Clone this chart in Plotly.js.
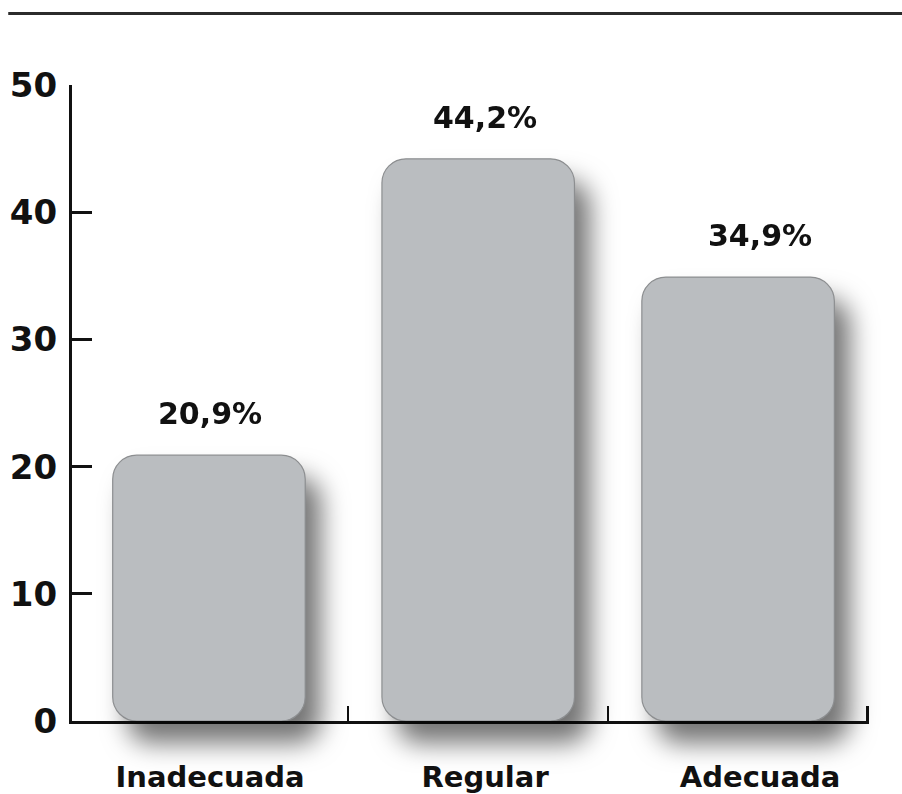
<!DOCTYPE html>
<html>
<head>
<meta charset="utf-8">
<script src="https://cdn.plot.ly/plotly-3.0.1.min.js"></script>
<style>
  html, body { margin: 0; padding: 0; background: #fff; }
  #chart { width: 902px; height: 794px; }
  #chart .barlayer {
    filter: drop-shadow(15px 22px 13px rgba(0,0,0,0.55));
  }
</style>
</head>
<body>
<div id="chart"></div>
<script>
// ---- data ----
const categories = ["Inadecuada", "Regular", "Adecuada"];
const values = [20.9, 44.2, 34.9];
const valueLabels = ["20,9%", "44,2%", "34,9%"];
const yTickValues = [0, 10, 20, 30, 40, 50];
const yTickLabels = ["0", "10", "20", "30", "40", "50"];

// ---- style ----
const FONT = "DejaVu Sans, Liberation Sans, sans-serif";
const BAR_FILL = "#babdc0";
const BAR_WIDTH = 0.70;
const RADIUS = 24;
const BAR_NUDGE = [-0.004, -0.025, -0.08];   // small horizontal nudges of bars within their slots
const X_RANGE = [-0.502, 2.396];
const X_TICK_POS = [0.502, 1.447, 2.390];

const traces = [{
  type: "bar",
  x: categories,
  y: values,
  base: values.map(() => 0),
  width: BAR_WIDTH,
  offset: BAR_NUDGE.map(n => n - BAR_WIDTH / 2),
  marker: { color: BAR_FILL, cornerradius: RADIUS, line: { width: 1.2, color: "#8c8e90" } },
  cliponaxis: false,
  hoverinfo: "skip",
  showlegend: false
}, {
  // empty helper trace so that the tick-only overlay axis is drawn
  type: "scatter", mode: "markers",
  x: [], y: [],
  xaxis: "x2", yaxis: "y",
  hoverinfo: "skip", showlegend: false
}];

const annotations = categories.map((c, i) => ({
  x: c, y: values[i], xref: "x", yref: "y",
  text: valueLabels[i], showarrow: false,
  yanchor: "bottom", yshift: 22,
  font: { family: FONT, size: 30, color: "#111", weight: 700 }
}));

const layout = {
  width: 902, height: 794,
  margin: { l: 72, r: 33, t: 85, b: 73, pad: 0 },
  paper_bgcolor: "#ffffff",
  plot_bgcolor: "#ffffff",
  barmode: "overlay",
  font: { family: FONT, color: "#111" },
  xaxis: {
    type: "category",
    range: X_RANGE,
    showline: true, linecolor: "#111", linewidth: 3,
    ticks: "",
    tickfont: { family: FONT, size: 29, color: "#111", weight: 700 },
    ticklabelstandoff: 28,
    showgrid: false, zeroline: false,
    layer: "below traces"
  },
  xaxis2: {
    type: "linear",
    overlaying: "x", anchor: "y", side: "bottom",
    range: X_RANGE,
    tickmode: "array", tickvals: X_TICK_POS,
    ticks: "inside", ticklen: 15, tickwidth: 2.5, tickcolor: "#111",
    showticklabels: false, showline: false, showgrid: false, zeroline: false,
    layer: "below traces"
  },
  yaxis: {
    range: [0, 50],
    tickmode: "array", tickvals: yTickValues, ticktext: yTickLabels,
    showline: true, linecolor: "#111", linewidth: 3,
    ticks: "inside", ticklen: 20, tickwidth: 3, tickcolor: "#111",
    tickfont: { family: FONT, size: 34, color: "#111", weight: 700 },
    ticklabelstandoff: 5,
    showgrid: false, zeroline: false,
    layer: "below traces"
  },
  shapes: [{
    type: "line", xref: "paper", yref: "paper",
    x0: -0.08, x1: 1.05, y0: 1.1125, y1: 1.1125,
    line: { color: "#2b2b2b", width: 3 }
  }],
  annotations: annotations
};

Plotly.newPlot("chart", traces, layout, { displayModeBar: false, staticPlot: true });
</script>
</body>
</html>
